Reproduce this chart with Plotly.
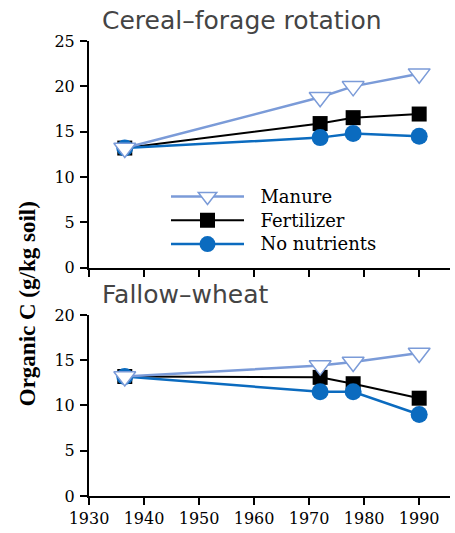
import plotly.graph_objects as go

years = [1936.5, 1972, 1978, 1990]

cf_manure = [13.2, 18.8, 20.0, 21.4]
cf_fertilizer = [13.2, 15.9, 16.55, 16.95]
cf_none = [13.2, 14.35, 14.8, 14.5]

fw_manure = [13.2, 14.4, 14.8, 15.8]
fw_fertilizer = [13.2, 13.1, 12.4, 10.8]
fw_none = [13.2, 11.5, 11.5, 9.0]

x_ticks = [1930, 1940, 1950, 1960, 1970, 1980, 1990]
top_yticks = [0, 5, 10, 15, 20, 25]
bot_yticks = [0, 5, 10, 15, 20]

C_MAN = "#7B9BD8"
C_FER = "#000000"
C_NON = "#0B6BBF"

W, H = 455, 533
ML, MR, MT, MB = 89, 5, 41, 34
pw = W - ML - MR
ph = H - MT - MB
def py(pix):
    return (H - MB - pix) / ph
def px(pix):
    return (pix - ML) / pw

fig = go.Figure()

def lname(n):
    return '<span style="font-size:18px">\u00a0\u00a0' + n + '</span>'

def add_series(x, y, xa, ya, name, color, symbol, size, show, rank, filled=True, lw=2.5):
    fig.add_trace(go.Scatter(
        x=x, y=y, xaxis=xa, yaxis=ya, name=lname(name), mode="lines+markers",
        showlegend=show, legendrank=rank,
        line=dict(color=color, width=lw),
        marker=dict(symbol=symbol, size=size,
                    color=color if filled else "white",
                    line=dict(color=color, width=0 if filled else 1.5)),
        cliponaxis=False,
    ))

# top panel (drawing order: fertilizer, none, manure)
add_series(years, cf_fertilizer, "x", "y", "Fertilizer", C_FER, "square", 15, True, 2, lw=2)
add_series(years, cf_none, "x", "y", "No nutrients", C_NON, "circle", 17, True, 3)
add_series(years, cf_manure, "x", "y", "Manure", C_MAN, "triangle-down", 19, True, 1, filled=False)
# bottom panel
add_series(years, fw_fertilizer, "x2", "y2", "Fertilizer", C_FER, "square", 15, False, 2, lw=2)
add_series(years, fw_none, "x2", "y2", "No nutrients", C_NON, "circle", 17, False, 3)
add_series(years, fw_manure, "x2", "y2", "Manure", C_MAN, "triangle-down", 19, False, 1, filled=False)

top_dom = [py(269.3), 1.0]
bot_dom = [0.0, py(316.7)]

tickfont = dict(family="DejaVu Serif", size=16, color="black")
common_x = dict(range=[1930, 1995.6], tickvals=x_ticks, showline=True, linecolor="black",
                linewidth=2, ticks="outside", ticklen=7, tickwidth=2, tickcolor="black",
                showgrid=False, zeroline=False, tickfont=tickfont)
common_y = dict(showline=True, linecolor="black", linewidth=2, ticks="outside", ticklen=7,
                tickwidth=2, tickcolor="black", showgrid=False, zeroline=False,
                tickfont=tickfont, ticklabelstandoff=2)

fig.update_layout(
    width=W, height=H,
    margin=dict(l=ML, r=MR, t=MT, b=MB),
    paper_bgcolor="white", plot_bgcolor="white",
    xaxis=dict(domain=[0, 1], anchor="y", showticklabels=False, **common_x),
    yaxis=dict(domain=top_dom, anchor="x", range=[0, 25], tickvals=top_yticks, **common_y),
    xaxis2=dict(domain=[0, 1], anchor="y2", showticklabels=True, **common_x),
    yaxis2=dict(domain=bot_dom, anchor="x2", range=[0, 20], tickvals=bot_yticks, **common_y),
    legend=dict(x=px(166), y=py(180.5), xanchor="left", yanchor="top",
                font=dict(family="DejaVu Serif", size=16, color="black"),
                bgcolor="rgba(0,0,0,0)", itemwidth=73, tracegroupgap=0,
                traceorder="normal"),
    showlegend=True,
)

title_font = dict(family="DejaVu Sans", size=25, color="#444444")
fig.add_annotation(text="Cereal–forage rotation", xref="paper", yref="paper",
                   x=px(100), y=py(20.5), xanchor="left", yanchor="middle",
                   showarrow=False, font=title_font)
fig.add_annotation(text="Fallow–wheat", xref="paper", yref="paper",
                   x=px(100), y=py(296), xanchor="left", yanchor="middle",
                   showarrow=False, font=title_font)
fig.add_annotation(text="<b>Organic C (g/kg soil)</b>", xref="paper", yref="paper",
                   x=px(27), y=py(306), xanchor="center", yanchor="middle",
                   textangle=-90, showarrow=False,
                   font=dict(family="Liberation Serif", size=23, color="black"))

fig.write_html("out.html", config={"displayModeBar": False},
               post_script="document.body.style.margin='0px';")
